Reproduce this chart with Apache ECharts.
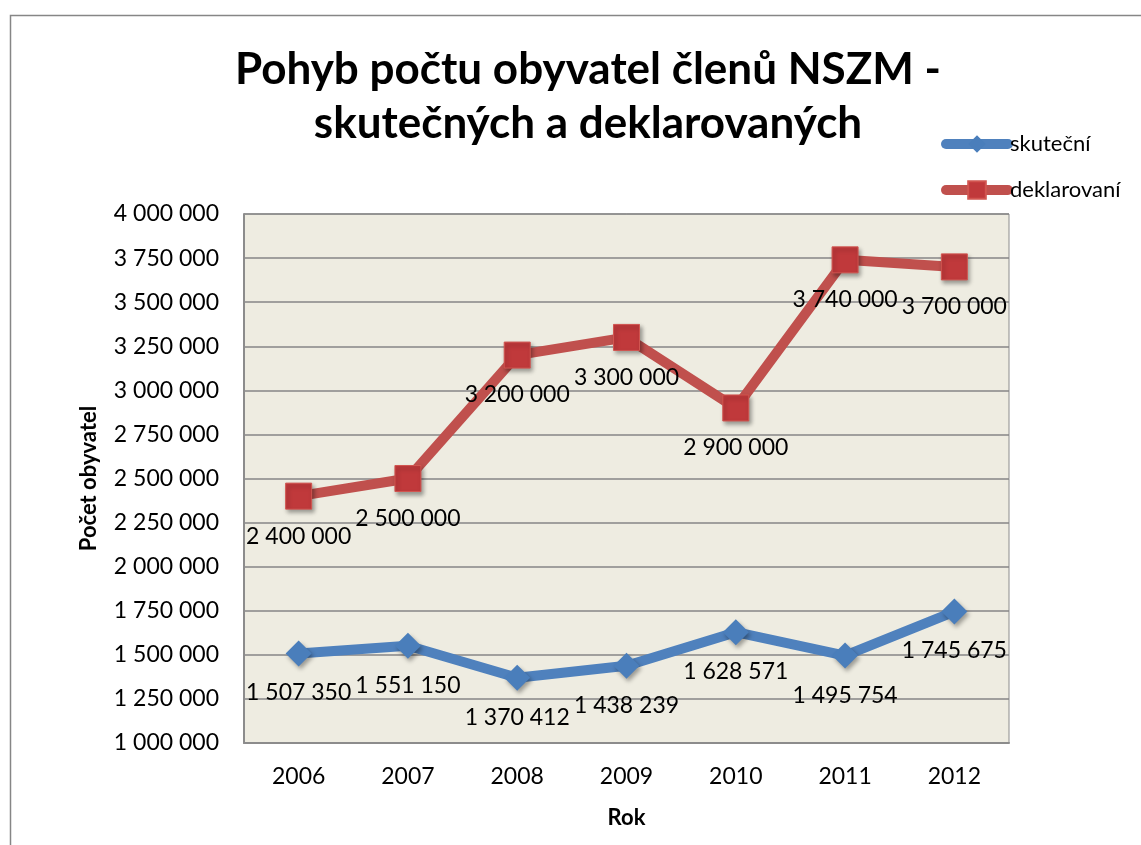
<!DOCTYPE html>
<html>
<head>
<meta charset="utf-8">
<script src="https://cdn.jsdelivr.net/npm/echarts@6/dist/echarts.min.js"></script>
<style>
  html, body { margin: 0; padding: 0; background: #fff; }
  #chart { width: 1141px; height: 845px; }
</style>
</head>
<body>
<div id="chart"></div>
<script>
const years = ['2006', '2007', '2008', '2009', '2010', '2011', '2012']
const skutecni = [1507350, 1551150, 1370412, 1438239, 1628571, 1495754, 1745675]
const deklarovani = [2400000, 2500000, 3200000, 3300000, 2900000, 3740000, 3700000]

const FONT = 'Lato, "Open Sans", sans-serif'
const fmt = v => String(v).replace(/\B(?=(\d{3})+(?!\d))/g, ' ')

const chart = echarts.init(document.getElementById('chart'))

const labelStyle = {
  show: true,
  position: 'bottom',
  distance: 15,
  fontFamily: FONT,
  fontSize: 23,
  color: '#000',
  formatter: p => fmt(p.value)
}

chart.setOption({
  animation: false,
  textStyle: { fontFamily: FONT },
  title: {
    text: 'Pohyb počtu obyvatel členů NSZM -\nskutečných a deklarovaných',
    left: 583,
    top: 38,
    textAlign: 'center',
    textStyle: { fontFamily: FONT, fontSize: 44, fontWeight: 'bold', color: '#000', lineHeight: 54 }
  },
  legend: {
    orient: 'vertical',
    left: 936,
    top: 128,
    itemWidth: 62,
    itemHeight: 22,
    itemGap: 24,
    lineStyle: { width: 10, cap: 'round' },
    textStyle: { fontFamily: FONT, fontSize: 22, color: '#000', padding: [0, 0, 0, -3] },
    data: ['skuteční', 'deklarovaní']
  },
  graphic: [{
    type: 'rect',
    left: 8,
    top: 13,
    shape: { width: 1200, height: 900 },
    style: { fill: 'none', stroke: '#868686', lineWidth: 1.5 },
    silent: true
  }],
  grid: {
    left: 244,
    top: 214,
    width: 765,
    height: 529,
    show: true,
    backgroundColor: '#EEECE1',
    borderColor: '#8C8C8C',
    borderWidth: 1
  },
  xAxis: {
    type: 'category',
    data: years,
    boundaryGap: true,
    name: 'Rok',
    nameLocation: 'middle',
    nameGap: 64,
    nameTextStyle: { fontFamily: FONT, fontSize: 22, fontWeight: 'bold', color: '#000' },
    axisLine: { lineStyle: { color: '#8C8C8C', width: 2 } },
    axisTick: { show: false },
    axisLabel: { fontFamily: FONT, fontSize: 23, color: '#000', margin: 22 }
  },
  yAxis: {
    type: 'value',
    min: 1000000,
    max: 4000000,
    interval: 250000,
    name: 'Počet obyvatel',
    nameLocation: 'middle',
    nameGap: 144,
    nameRotate: 90,
    nameTextStyle: { fontFamily: FONT, fontSize: 22, fontWeight: 'bold', color: '#000' },
    axisLine: { show: true, lineStyle: { color: '#8C8C8C', width: 2 } },
    axisTick: { show: false },
    splitLine: { lineStyle: { color: '#868686', width: 1.5 } },
    axisLabel: { fontFamily: FONT, fontSize: 23, color: '#000', margin: 25, formatter: v => fmt(v) }
  },
  series: [
    {
      name: 'skuteční',
      type: 'line',
      data: skutecni,
      symbol: 'diamond',
      symbolSize: 26,
      lineStyle: { color: '#4F81BD', width: 10 },
      itemStyle: {
        color: '#4A7EBB',
        shadowColor: 'rgba(0,0,0,0.35)',
        shadowBlur: 4,
        shadowOffsetX: 2,
        shadowOffsetY: 3
      },
      label: labelStyle
    },
    {
      name: 'deklarovaní',
      type: 'line',
      data: deklarovani,
      symbol: 'rect',
      symbolSize: 26,
      lineStyle: { color: '#C0504D', width: 10 },
      itemStyle: {
        color: '#C0393B',
        borderColor: '#D15550',
        borderWidth: 1,
        shadowColor: 'rgba(0,0,0,0.35)',
        shadowBlur: 4,
        shadowOffsetX: 2,
        shadowOffsetY: 3
      },
      label: labelStyle
    }
  ]
})
</script>
</body>
</html>
